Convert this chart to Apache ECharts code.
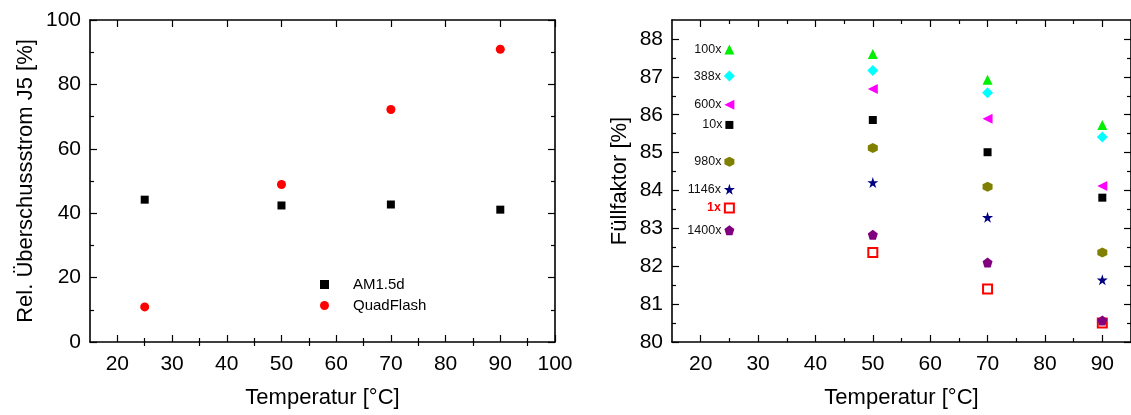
<!DOCTYPE html>
<html><head><meta charset="utf-8">
<script src="https://cdn.jsdelivr.net/npm/echarts@6/dist/echarts.min.js"></script>
<style>html,body{margin:0;padding:0;background:#fff}#c{width:1131px;height:415px}</style>
</head><body><div id="c"></div>
<script>
// ---------- data ----------
const tempsLeft = [25, 50, 70, 90];
const am15d = [44.2, 42.4, 42.7, 41.1];
const quadFlash = [10.9, 48.9, 72.2, 90.9];

const tempsRight = [25, 50, 70, 90];
const ff10x   = [85.73, 85.86, 85.01, 83.81];
const ff1x    = [83.54, 82.36, 81.40, 80.50];
const ff100x  = [87.72, 87.60, 86.92, 85.73];
const ff388x  = [87.02, 87.17, 86.58, 85.41];
const ff600x  = [86.26, 86.68, 85.89, 84.12];
const ff980x  = [84.76, 85.12, 84.10, 82.36];
const ff1146x = [84.03, 84.21, 83.29, 81.64];
const ff1400x = [82.95, 82.83, 82.10, 80.57];

const xLabelsLeft  = [20, 30, 40, 50, 60, 70, 80, 90, 100];
const xMinorLeft   = [25, 35, 45, 55, 65, 75, 85, 95];
const yLabelsLeft  = [0, 20, 40, 60, 80, 100];
const yMinorLeft   = [10, 30, 50, 70, 90];
const xLabelsRight = [20, 30, 40, 50, 60, 70, 80, 90];
const xMinorRight  = [25, 35, 45, 55, 65, 75, 85];
const yLabelsRight = [80, 81, 82, 83, 84, 85, 86, 87, 88];
const yMinorRight  = [80.5, 81.5, 82.5, 83.5, 84.5, 85.5, 86.5, 87.5];

// ---------- styles ----------
const FONT = 'Liberation Sans, Arial, sans-serif';
const STAR = 'path://M0,-1 L0.2245,-0.309 L0.951,-0.309 L0.363,0.118 L0.588,0.809 L0,0.382 L-0.588,0.809 L-0.363,0.118 L-0.951,-0.309 L-0.2245,-0.309 Z';
const HEX = 'path://M0,-1 L0.866,-0.5 L0.866,0.5 L0,1 L-0.866,0.5 L-0.866,-0.5 Z';
const PENT = 'path://M0,-1 L0.951,-0.309 L0.588,0.809 L-0.588,0.809 L-0.951,-0.309 Z';

function tick(vals, len) {
  return {show: true, inside: true, length: len, customValues: vals, lineStyle: {color: '#000', width: 1.2}};
}
function makeAxes(dim, gridIndex, min, max, majors, minors, labels, name, nameGap, margin) {
  const pos = dim === 'x' ? ['bottom', 'top'] : ['left', 'right'];
  const base = {type: 'value', gridIndex, min, max, silent: true,
    splitLine: {show: false}, axisLabel: {show: false}, axisTick: {show: false}, axisLine: {show: false}};
  const line = {show: true, onZero: false, lineStyle: {color: '#000', width: 1.6}};
  return [
    Object.assign({}, base, {position: pos[0], axisLine: line, axisTick: tick(majors, 7),
      axisLabel: {show: true, customValues: labels, margin, fontSize: 21, color: '#000', fontFamily: FONT},
      name, nameLocation: 'middle', nameGap,
      nameTextStyle: {fontSize: 22, color: '#000', fontFamily: FONT}}),
    Object.assign({}, base, {position: pos[0], axisTick: tick(minors, 4)}),
    Object.assign({}, base, {position: pos[1], axisLine: line, axisTick: tick(majors, 7)}),
    Object.assign({}, base, {position: pos[1], axisTick: tick(minors, 4)})
  ];
}

const xAxes = [].concat(
  makeAxes('x', 0, 15, 100, xLabelsLeft, xMinorLeft, xLabelsLeft, 'Temperatur [°C]', 45, 12),
  makeAxes('x', 1, 15, 95, xLabelsRight, xMinorRight, xLabelsRight, 'Temperatur [°C]', 45, 12)
);
const yAxes = [].concat(
  makeAxes('y', 0, 0, 100, yLabelsLeft, yMinorLeft, yLabelsLeft, 'Rel. Überschussstrom J5 [%]', 53, 9),
  makeAxes('y', 1, 80, 88.5, yLabelsRight, yMinorRight, yLabelsRight, 'Füllfaktor [%]', 41, 9)
);

function pairs(xs, ys) { return xs.map((x, i) => [x, ys[i]]); }

const series = [
  {name: 'AM1.5d', type: 'scatter', xAxisIndex: 0, yAxisIndex: 0, data: pairs(tempsLeft, am15d),
    symbol: 'rect', symbolSize: 8, itemStyle: {color: '#000', opacity: 1}},
  {name: 'QuadFlash', type: 'scatter', xAxisIndex: 0, yAxisIndex: 0, data: pairs(tempsLeft, quadFlash),
    symbol: 'circle', symbolSize: 9, itemStyle: {color: '#ff0000', opacity: 1}}
];

const rightDefs = [
  {name: '10x', vals: ff10x, symbol: 'rect', size: 8, color: '#000'},
  {name: '1x', vals: ff1x, symbol: 'rect', size: 9, color: '#fff', border: '#ff0000', labelColor: '#ff0000', bold: true},
  {name: '100x', vals: ff100x, symbol: 'triangle', size: 10, color: '#00ee00'},
  {name: '388x', vals: ff388x, symbol: 'diamond', size: 11, color: '#00ffff'},
  {name: '600x', vals: ff600x, symbol: 'triangle', size: 10, rotate: 90, color: '#ff00ff'},
  {name: '980x', vals: ff980x, symbol: HEX, size: 10, color: '#808000'},
  {name: '1146x', vals: ff1146x, symbol: STAR, size: 11, color: '#000080'},
  {name: '1400x', vals: ff1400x, symbol: PENT, size: 10, color: '#800080'}
];
rightDefs.forEach(d => {
  series.push({
    name: d.name, type: 'scatter', xAxisIndex: 4, yAxisIndex: 4,
    data: pairs(tempsRight, d.vals),
    symbol: d.symbol, symbolSize: d.size, symbolRotate: d.rotate || 0,
    itemStyle: d.border ? {color: '#fff', borderColor: d.border, borderWidth: 2, opacity: 1} : {color: d.color, opacity: 1},
    label: {show: true, position: 'left', distance: 3, fontSize: 12.5, fontFamily: FONT,
      color: d.labelColor || '#111', fontWeight: d.bold ? 'bold' : 'normal',
      formatter: p => p.dataIndex === 0 ? d.name : ''}
  });
});

const chart = echarts.init(document.getElementById('c'), null, {renderer: 'canvas'});
chart.setOption({
  animation: false,
  backgroundColor: '#fff',
  grid: [
    {left: 90, top: 20, width: 465, height: 322},
    {left: 672, top: 20, width: 464, height: 322}
  ],
  legend: {
    data: ['AM1.5d', 'QuadFlash'], orient: 'vertical', left: 315, top: 272,
    itemWidth: 9, itemHeight: 9, itemGap: 6,
    textStyle: {fontSize: 15, color: '#000', fontFamily: FONT, padding: [0, 0, 0, 19]}
  },
  xAxis: xAxes,
  yAxis: yAxes,
  series
});
</script>
</body></html>
